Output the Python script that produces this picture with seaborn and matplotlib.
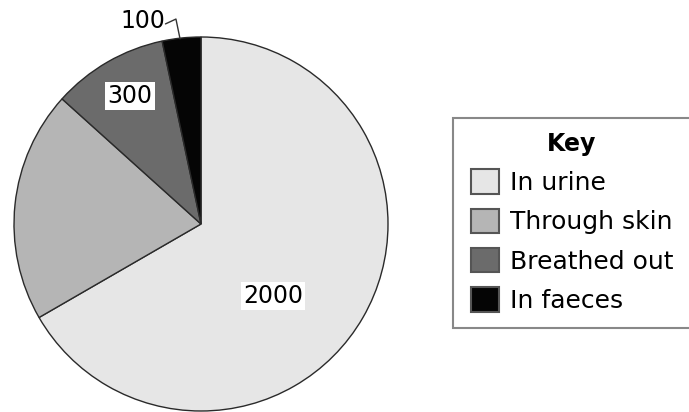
import matplotlib
matplotlib.use("Agg")
import matplotlib.pyplot as plt
from matplotlib.patches import Rectangle
import seaborn as sns

routes = ["In urine", "Through skin", "Breathed out", "In faeces"]
water_lost = [2000, 600, 300, 100]
slice_colors = ["#e6e6e6", "#b5b5b5", "#6b6b6b", "#050505"]

sns.set_theme(style="white")
plt.rcParams["font.family"] = ["DejaVu Sans"]
plt.rcParams["text.color"] = "black"

fig = plt.figure(figsize=(6.89, 4.12), dpi=100)
fig.patch.set_facecolor("white")

# pie axes placed in pixels: centre ~ (201, 224), radius ~187
ax = fig.add_axes([14 / 689, 1 / 412, 374 / 689, 374 / 412])
wedges, _ = ax.pie(
    water_lost, colors=slice_colors, startangle=90, counterclock=False,
    radius=1, wedgeprops=dict(edgecolor="#2a2a2a", linewidth=1.0),
)
for w in wedges:
    w.set_clip_on(False)
ax.set_xlim(-1, 1)
ax.set_ylim(-1, 1)
ax.set_aspect("equal")
ax.axis("off")

# value labels
ax.text(0.385, -0.385, str(water_lost[0]), fontsize=17, ha="center", va="center",
        bbox=dict(facecolor="white", edgecolor="none", pad=1.5))
ax.text(-0.38, 0.685, str(water_lost[2]), fontsize=17, ha="center", va="center",
        bbox=dict(facecolor="white", edgecolor="none", pad=1.5))
ax.text(-0.19, 1.085, str(water_lost[3]), fontsize=17, ha="right", va="center")
ax.plot([-0.19, -0.134, -0.112], [1.07, 1.096, 0.99], color="#333333",
        linewidth=1.0, clip_on=False)

# key box runs off the right edge, like the reference
fig.add_artist(Rectangle((453 / 689, 1 - 328 / 412), 260 / 689, 210 / 412,
                         transform=fig.transFigure, facecolor="white",
                         edgecolor="#888888", linewidth=1.5, zorder=0))

leg = fig.legend(
    wedges, routes, title="Key", loc="upper left",
    bbox_to_anchor=(458 / 689, 1 - 119 / 412), borderaxespad=0,
    fontsize=18, title_fontproperties=dict(weight="bold", size=17),
    handlelength=1.12, handleheight=1.12, handletextpad=0.45,
    labelspacing=0.55, borderpad=0.5, frameon=False,
)
for h in leg.legend_handles:
    h.set_edgecolor("#555555")
    h.set_linewidth(1.5)

fig.savefig("out.png", dpi=100)
